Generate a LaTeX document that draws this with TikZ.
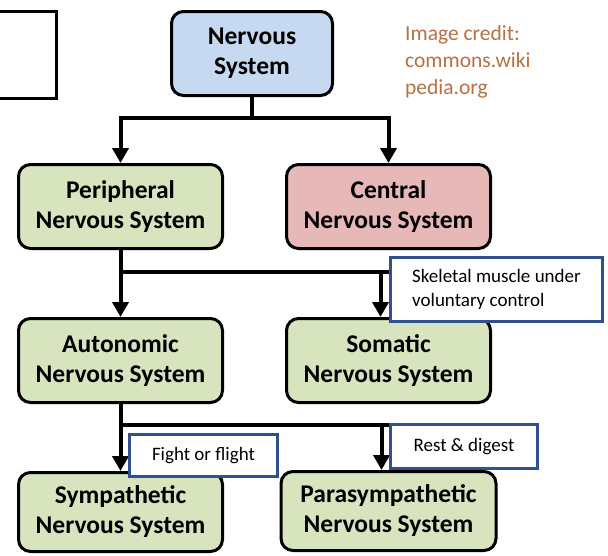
\documentclass[tikz,border=0pt]{standalone}
\usepackage{fontspec}
\setmainfont{Carlito}
\usetikzlibrary{positioning,arrows.meta}

\definecolor{nsblue}{RGB}{198,217,240}
\definecolor{nsgreen}{RGB}{215,228,189}
\definecolor{nspink}{RGB}{230,185,184}
\definecolor{noteblue}{RGB}{47,82,143}
\definecolor{credit}{RGB}{184,112,64}

\begin{document}
\begin{tikzpicture}[x=1pt,y=-1pt,
    box/.style={draw,line width=3pt,rounded corners=12pt,align=center,
      font=\bfseries\fontsize{25.5}{30}\selectfont,
      minimum width=204pt,minimum height=84pt,inner sep=0pt},
    note/.style={draw=noteblue,line width=3pt,fill=white,anchor=north west,
      font=\fontsize{19}{24}\selectfont,inner sep=0pt},
    link/.style={line width=4pt},
    branch/.style={link,-{Triangle[width=16pt,length=15pt]}}]
  \useasboundingbox (0,0) rectangle (608,555);

  \draw[line width=3pt] (-10,11) -| (56,98) -- (-10,98);

  \node[box,fill=nsblue,minimum width=161pt] (nervous) at (252,53.5) {Nervous\\System};
  \node[box,fill=nsgreen,below=66pt of nervous,xshift=-131.5pt] (peripheral) {Peripheral\\Nervous System};
  \node[box,fill=nspink,right=61pt of peripheral] (central) {Central\\Nervous System};
  \node[box,fill=nsgreen,below=67pt of peripheral] (autonomic) {Autonomic\\Nervous System};
  \node[box,fill=nsgreen,below=67pt of central] (somatic) {Somatic\\Nervous System};
  \node[box,fill=nsgreen,minimum height=79pt,below=67pt of autonomic] (sympathetic) {Sympathetic\\Nervous System};
  \node[box,fill=nsgreen,minimum width=215pt,minimum height=79pt,below=66pt of somatic] (parasympathetic) {Parasympathetic\\Nervous System};

  % forks
  \draw[link] (nervous.south) -- ++(0,-21pt) coordinate (fork1);
  \draw[branch] (fork1) -| (peripheral);
  \draw[branch] (fork1) -| (central);

  \draw[link] (peripheral.south) -- ++(0,-22pt) coordinate (fork2);
  \draw[link] (fork2) -- (fork2 -| somatic);
  \draw[branch] (fork2) -| (autonomic);
  \draw[branch] (fork2) -| ([xshift=-8pt]somatic.north);

  \draw[link] (autonomic.south) -- ++(0,-21pt) coordinate (fork3);
  \draw[link] (fork3) -- (fork3 -| parasympathetic);
  \draw[branch] (fork3) -| (sympathetic);
  \draw[branch] (fork3) -| ([xshift=-7pt]parasympathetic.north);

  % notes
  \node[note,minimum width=212pt,minimum height=64pt,align=left] (skeletal) at (389,256) {Skeletal muscle under\\voluntary control};
  \node[note,minimum width=148pt,minimum height=42pt] (fight) at (128,433) {Fight or flight};
  \node[note,minimum width=147pt,minimum height=44pt] (rest) at (389,423) {Rest \& digest};

  \node[anchor=north west,inner sep=0pt,align=left,text=credit,
    font=\fontsize{21.5}{27}\selectfont] (credit) at (405,25) {Image credit:\\commons.wiki\\pedia.org};
\end{tikzpicture}
\end{document}
